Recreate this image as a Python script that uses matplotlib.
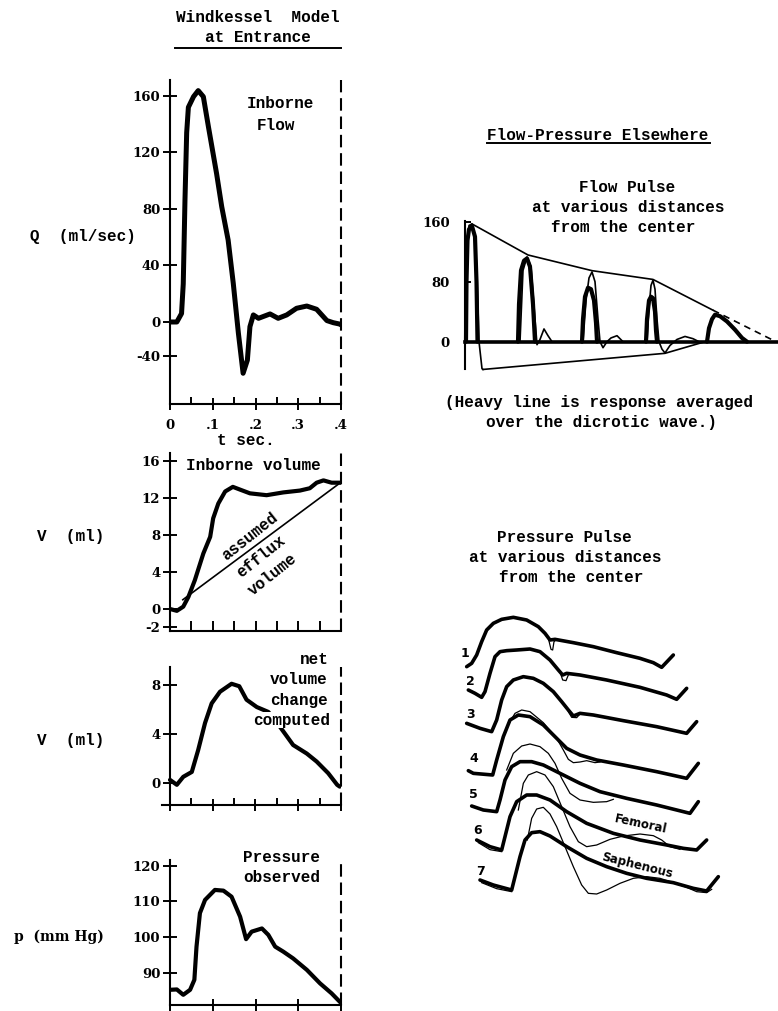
import matplotlib
matplotlib.use("Agg")
import matplotlib.pyplot as plt
from matplotlib.lines import Line2D

# ---------------- data ----------------
# Windkessel panel 1: inborne flow Q (ml/sec) vs t (sec)
T_FLOW = [0, 0.016, 0.027, 0.031, 0.035, 0.039, 0.043, 0.055, 0.066, 0.078, 0.09, 0.109,
          0.121, 0.136, 0.148, 0.16, 0.171, 0.181, 0.187, 0.195, 0.207, 0.234, 0.253, 0.273,
          0.296, 0.32, 0.343, 0.367, 0.382, 0.396, 0.4]
Q_FLOW = [0, 0, 6, 27, 86, 134, 152, 159.5, 163.8, 159.5, 138, 105, 81.6, 58, 27.4, -8,
          -36.3, -27, -3.3, 5, 2.6, 5.7, 2.6, 5, 9.7, 11.3, 9, 1, -0.5, -1.4, -2]
Q_TICKS = [160, 120, 80, 40, 0, -24]
Q_TICK_LABELS = ["160", "120", "80", "40", "0", "-40"]

# panel 2: inborne volume V (ml)
T_VOL = [0, 0.016, 0.031, 0.043, 0.058, 0.078, 0.094, 0.101, 0.113, 0.129, 0.147, 0.164,
         0.187, 0.226, 0.265, 0.304, 0.327, 0.343, 0.359, 0.378, 0.4]
V_VOL = [0, -0.2, 0.25, 1.3, 3.1, 6, 7.8, 9.8, 11.4, 12.7, 13.2, 12.9, 12.5, 12.3, 12.6,
         12.8, 13.05, 13.65, 13.9, 13.65, 13.65]
T_EFFLUX = [0.03, 0.4]
V_EFFLUX = [1.0, 13.7]
V_TICKS = [16, 12, 8, 4, 0, -2]

# panel 3: net volume change computed
T_NET = [0, 0.016, 0.031, 0.051, 0.066, 0.082, 0.0975, 0.117, 0.144, 0.162, 0.179, 0.203,
         0.23, 0.257, 0.288, 0.32, 0.343, 0.37, 0.391, 0.397]
V_NET = [0.25, -0.15, 0.5, 0.9, 2.7, 4.9, 6.5, 7.45, 8.1, 7.9, 6.8, 6.2, 5.8, 4.6, 3.1,
         2.4, 1.75, 0.8, -0.15, -0.3]
NET_TICKS = [8, 4, 0]

# panel 4: pressure observed p (mm Hg)
T_PRESS = [0, 0.016, 0.031, 0.047, 0.057, 0.062, 0.070, 0.082, 0.105, 0.125, 0.144, 0.164,
           0.178, 0.191, 0.215, 0.23, 0.246, 0.265, 0.288, 0.32, 0.351, 0.378, 0.4]
P_PRESS = [85.2, 85.3, 83.8, 85.2, 88, 97.3, 106.7, 110.4, 113.2, 113, 111.3, 105.7, 99.4,
           101.5, 102.4, 100.6, 97.3, 95.9, 94, 90.8, 87, 84.2, 81.5]
P_TICKS = [120, 110, 100, 90]

T_MAJOR = [0, 0.1, 0.2, 0.3, 0.4]
T_MINOR = [0.05, 0.15, 0.25, 0.35]
T_LABELS = ["0", ".1", ".2", ".3", ".4"]

# Flow pulse at various distances (schematic distance, flow ml/sec)
FP1_THICK_X = [1, 1.5, 2.5, 4, 7, 10, 11.5, 12.5]
FP1_THICK_Q = [0, 80, 135, 150, 154, 140, 80, 0]
FP1_THIN_X = [0, 2, 4, 7, 10, 12, 14, 17, 18]
FP1_THIN_Q = [0, 120, 155, 157, 140, 90, 0, -36, -37]
FP2_THICK_X = [53, 54, 56, 59, 62, 65, 68, 70]
FP2_THICK_Q = [0, 50, 95, 108, 111, 100, 50, 0]
FP2_THIN_X = [55, 58, 62, 66, 70, 72, 75, 79, 83, 87]
FP2_THIN_Q = [0, 95, 113, 100, 30, -4, 3, 17, 8, 0]
FP3_THICK_X = [117, 118, 120, 123, 126, 129, 131, 132]
FP3_THICK_Q = [0, 30, 60, 72, 70, 55, 25, 0]
FP3_THIN_X = [118, 121, 124, 127, 130, 133, 135, 138, 142, 146, 152, 158]
FP3_THIN_Q = [0, 55, 85, 93, 80, 30, 0, -8, 0, 5, 8, 0]
FP4_THICK_X = [181, 182, 184, 186, 188, 190, 191, 192]
FP4_THICK_Q = [0, 30, 55, 60, 58, 40, 15, 0]
FP4_THIN_X = [182, 184, 186, 188, 190, 192, 194, 197, 200, 205, 212, 220, 228, 234]
FP4_THIN_Q = [0, 45, 75, 82, 70, 30, 0, -10, -15, -5, 3, 7, 4, 0]
FP5_THICK_X = [242, 244, 247, 250, 255, 262, 270, 277, 282]
FP5_THICK_Q = [0, 18, 30, 36, 34, 27, 16, 5, 0]
ENV_UP_X = [7, 63, 127, 188, 248]
ENV_UP_Q = [157, 115.6, 94.7, 83, 42]
ENV_DASH_X = [248, 311]
ENV_DASH_Q = [42, 0]
ENV_LOW_X = [18, 200, 240]
ENV_LOW_Q = [-37, -15.5, 0]
BASE_X = [0, 313]
BASE_Q = [0, 0]
FP_TICKS = [160, 80, 0]

# Pressure pulse traces 1..7 (schematic trace coordinates, y downward)
PP1_X = [80, 95, 110, 125, 140, 160, 185, 220, 260, 295, 315, 330, 345, 400, 460, 530, 600, 640, 665, 700]
PP1_Y = [170, 160, 135, 95, 60, 40, 28, 22, 30, 50, 70, 90, 88, 98, 110, 128, 145, 158, 172, 135]
PP1_THIN_X = [325, 333, 338, 342, 350]
PP1_THIN_Y = [85, 118, 120, 95, 88]
PP2_X = [85, 105, 125, 135, 150, 165, 180, 200, 230, 270, 300, 330, 355, 368, 380, 420, 500, 600, 680, 710, 740]
PP2_Y = [240, 250, 262, 245, 190, 140, 125, 122, 120, 117, 125, 150, 180, 195, 190, 195, 210, 232, 255, 268, 235]
PP2_THIN_X = [360, 368, 378, 385]
PP2_THIN_Y = [185, 210, 212, 195]
PP3_X = [80, 120, 155, 170, 185, 200, 220, 250, 280, 310, 340, 365, 385, 400, 420, 460, 550, 650, 740, 770]
PP3_Y = [340, 355, 365, 330, 270, 230, 210, 200, 205, 220, 245, 275, 300, 318, 310, 315, 332, 350, 370, 335]
PP3_THIN_X = [385, 395, 410, 420]
PP3_THIN_Y = [305, 322, 323, 312]
PP4_X = [85, 100, 158, 170, 190, 210, 235, 270, 310, 350, 380, 420, 470, 550, 650, 740, 775]
PP4_Y = [482, 490, 495, 450, 380, 330, 315, 320, 345, 385, 415, 435, 450, 465, 485, 505, 460]
PP4_THIN_X = [210, 225, 245, 270, 310, 350, 370, 385, 400, 420, 440, 465, 480]
PP4_THIN_Y = [335, 310, 300, 305, 338, 385, 420, 448, 458, 456, 452, 458, 456]
PP5_X = [95, 130, 170, 180, 195, 215, 240, 275, 310, 360, 420, 480, 560, 650, 750, 775]
PP5_Y = [588, 600, 605, 570, 510, 470, 455, 455, 465, 490, 520, 545, 565, 585, 610, 575]
PP5_THIN_X = [200, 220, 245, 270, 300, 325, 345, 365, 390, 420, 460, 500, 520]
PP5_THIN_Y = [480, 430, 408, 402, 410, 430, 460, 505, 550, 570, 577, 575, 568]
PP6_X = [110, 150, 185, 195, 210, 230, 260, 290, 330, 380, 440, 520, 600, 680, 730, 770, 800]
PP6_Y = [690, 710, 720, 680, 620, 575, 555, 555, 570, 605, 640, 670, 690, 705, 715, 720, 690]
PP6_THIN_X = [235, 250, 265, 290, 315, 340, 365, 390, 415, 440, 470, 510, 550, 600, 640, 665, 690, 720]
PP6_THIN_Y = [600, 520, 495, 485, 495, 530, 590, 650, 695, 710, 705, 688, 678, 672, 677, 690, 710, 718]
PP6_FOOT_X = [115, 150, 185]
PP6_FOOT_Y = [698, 719, 725]
PP7_X = [120, 160, 215, 225, 240, 255, 275, 300, 330, 380, 440, 500, 560, 620, 700, 760, 800, 835]
PP7_Y = [810, 825, 840, 800, 740, 690, 668, 665, 678, 710, 745, 770, 790, 805, 818, 835, 843, 800]
PP7_THIN_X = [262, 275, 290, 310, 330, 350, 375, 400, 425, 445, 470, 500, 540, 580, 620, 660, 700, 740, 770, 800, 815]
PP7_THIN_Y = [690, 625, 597, 592, 612, 650, 710, 770, 825, 850, 852, 840, 820, 805, 800, 805, 818, 832, 845, 848, 838]
PP7_FOOT_X = [125, 170, 215]
PP7_FOOT_Y = [818, 836, 845]
PP_LABELS = ["1", "2", "3", "4", "5", "6", "7"]
PP_LABEL_X = [75, 90, 90, 100, 100, 112, 122]
PP_LABEL_Y = [130, 215, 315, 445, 555, 662, 785]

# ---------------- figure ----------------
W, H = 778, 1011
fig = plt.figure(figsize=(W / 100, H / 100), dpi=100)
fig.patch.set_facecolor("white")

MONO = ["Liberation Mono", "DejaVu Sans Mono"]
SERIF = ["DejaVu Serif"]
SANS = ["DejaVu Sans"]


def px_axes(x0, y0, x1, y1):
    return fig.add_axes([x0 / W, 1 - y1 / H, (x1 - x0) / W, (y1 - y0) / H])


def ftext(x, y, s, **kw):
    kw.setdefault("family", MONO)
    kw.setdefault("weight", "bold")
    kw.setdefault("size", 11.5)
    kw.setdefault("ha", "center")
    kw.setdefault("va", "center")
    return fig.text(x / W, 1 - y / H, s, **kw)


def underline(x0, x1, y, lw=1.4):
    fig.add_artist(Line2D([x0 / W, x1 / W], [1 - y / H, 1 - y / H], color="black",
                          lw=lw, transform=fig.transFigure))


THICK = dict(color="black", solid_capstyle="round", solid_joinstyle="round")


def style_left(ax, ylim, yticks, ylabels, xlo=0.0, xlabels=False, minor=True, xdir="inout"):
    ax.set_xlim(xlo, 0.4)
    ax.set_ylim(*ylim)
    ax.patch.set_visible(False)
    for s in ["top", "right"]:
        ax.spines[s].set_visible(False)
    for s in ["left", "bottom"]:
        ax.spines[s].set_linewidth(1.5)
    ax.spines["left"].set_position(("data", 0))
    ax.set_yticks(yticks)
    ax.set_yticklabels(ylabels, family=SERIF, weight="bold", size=9.5)
    ax.tick_params(axis="y", direction="inout", length=10, width=1.4, pad=2)
    ax.set_xticks(T_MAJOR)
    if xlabels:
        ax.set_xticklabels(T_LABELS, family=SERIF, weight="bold", size=9.5)
    else:
        ax.set_xticklabels([])
    ax.tick_params(axis="x", which="major", direction=xdir, length=9, width=1.4, pad=6)
    if minor:
        ax.set_xticks(T_MINOR, minor=True)
        ax.tick_params(axis="x", which="minor", direction="in", length=5, width=1.4)
    ax.axvline(0.4, color="black", lw=1.5, dashes=(6, 2.8), clip_on=False)


# Panel 1: inborne flow
ax1 = px_axes(170, 80, 341, 404)
style_left(ax1, (-58.05, 171.3), Q_TICKS, Q_TICK_LABELS, xlabels=True)
ax1.plot(T_FLOW, Q_FLOW, lw=3.6, **THICK)

# Panel 2: inborne volume
ax2 = px_axes(170, 453, 341, 631)
style_left(ax2, (-2.38, 16.86), V_TICKS, [str(v) for v in V_TICKS])
ax2.set_xticks(T_MINOR, minor=True)
ax2.tick_params(axis="x", which="minor", direction="in", length=7, width=1.4)
ax2.tick_params(axis="x", which="major", direction="in", length=7, width=1.4)
ax2.plot(T_VOL, V_VOL, lw=3.0, **THICK)
ax2.plot(T_EFFLUX, V_EFFLUX, lw=1.2, color="black")

# Panel 3: net volume change
ax3 = px_axes(162, 667, 341, 805)
style_left(ax3, (-1.80, 9.47), NET_TICKS, [str(v) for v in NET_TICKS], xlo=-0.0187)
ax3.plot(T_NET, V_NET, lw=3.0, **THICK)

# Panel 4: pressure observed
ax4 = px_axes(170, 860, 341, 1005)
style_left(ax4, (80.94, 121.59), P_TICKS, [str(v) for v in P_TICKS], minor=False)
ax4.plot(T_PRESS, P_PRESS, lw=3.0, **THICK)

# Left column texts
ftext(258, 18, "Windkessel  Model")
ftext(258, 38, "at Entrance")
underline(175, 341, 48)
ftext(247, 104, "Inborne", ha="left")
ftext(257, 125, "Flow", ha="left")
ftext(30, 237, "Q  (ml/sec)", ha="left")
ftext(246, 440, "t sec.")
ftext(253, 465, "Inborne volume")
ftext(250, 537, "assumed", rotation=38.5, rotation_mode="anchor")
ftext(261, 557, "efflux", rotation=38.5, rotation_mode="anchor")
ftext(273, 575, "volume", rotation=38.5, rotation_mode="anchor")
ftext(37, 536, "V  (ml)", ha="left")
ftext(37, 741, "V  (ml)", ha="left")
ftext(329, 659, "net", ha="right")
ftext(328, 679, "volume", ha="right")
ftext(328, 700, "change", ha="right")
ftext(330, 720, "computed", ha="right",
      bbox=dict(facecolor="white", edgecolor="none", pad=0.5))
ftext(282, 857, "Pressure")
ftext(282, 878, "observed")
ftext(14, 937, "p  (mm Hg)", ha="left", family=SERIF, size=10)

# ---------------- Flow pulse (right top) ----------------
axf = px_axes(465, 215, 778, 372)
axf.set_xlim(0, 313)
axf.set_ylim(-40.4, 168.9)
axf.patch.set_visible(False)
for s in ["top", "right", "bottom"]:
    axf.spines[s].set_visible(False)
axf.spines["left"].set_linewidth(1.5)
axf.spines["left"].set_bounds(-37, 161)
axf.set_xticks([])
axf.set_yticks(FP_TICKS)
axf.set_yticklabels([str(v) for v in FP_TICKS], family=SERIF, weight="bold", size=9.5)
axf.tick_params(axis="y", direction="in", length=4, width=1.4, pad=11)
axf.plot(BASE_X, BASE_Q, lw=2.6, color="black", clip_on=False)
for xs, qs in [(FP1_THICK_X, FP1_THICK_Q), (FP2_THICK_X, FP2_THICK_Q),
               (FP3_THICK_X, FP3_THICK_Q), (FP4_THICK_X, FP4_THICK_Q),
               (FP5_THICK_X, FP5_THICK_Q)]:
    axf.plot(xs, qs, lw=3.0, clip_on=False, **THICK)
for xs, qs in [(FP1_THIN_X, FP1_THIN_Q), (FP2_THIN_X, FP2_THIN_Q),
               (FP3_THIN_X, FP3_THIN_Q), (FP4_THIN_X, FP4_THIN_Q)]:
    axf.plot(xs, qs, lw=1.2, color="black", clip_on=False)
axf.plot(ENV_UP_X, ENV_UP_Q, lw=1.2, color="black", clip_on=False)
axf.plot(ENV_DASH_X, ENV_DASH_Q, lw=1.2, color="black", dashes=(4, 3), clip_on=False)
axf.plot(ENV_LOW_X, ENV_LOW_Q, lw=1.2, color="black", clip_on=False)

ftext(598, 135, "Flow-Pressure Elsewhere")
underline(487, 710, 143)
ftext(627, 187, "Flow Pulse")
ftext(628, 207, "at various distances")
ftext(623, 227, "from the center")
ftext(599, 402, "(Heavy line is response averaged")
ftext(602, 422, "over the dicrotic wave.)")

# ---------------- Pressure pulse (right bottom) ----------------
ftext(564, 537, "Pressure Pulse")
ftext(565, 558, "at various distances")
ftext(571, 578, "from the center")

axp = px_axes(440, 610, 740, 910)
axp.set_xlim(0, 900)
axp.set_ylim(900, 0)
axp.axis("off")
for xs, ys in [(PP1_X, PP1_Y), (PP2_X, PP2_Y), (PP3_X, PP3_Y), (PP4_X, PP4_Y),
               (PP5_X, PP5_Y), (PP6_X, PP6_Y), (PP7_X, PP7_Y)]:
    axp.plot(xs, ys, lw=2.6, clip_on=False, **THICK)
for xs, ys in [(PP1_THIN_X, PP1_THIN_Y), (PP2_THIN_X, PP2_THIN_Y), (PP3_THIN_X, PP3_THIN_Y),
               (PP4_THIN_X, PP4_THIN_Y), (PP5_THIN_X, PP5_THIN_Y), (PP6_THIN_X, PP6_THIN_Y),
               (PP6_FOOT_X, PP6_FOOT_Y), (PP7_THIN_X, PP7_THIN_Y), (PP7_FOOT_X, PP7_FOOT_Y)]:
    axp.plot(xs, ys, lw=0.9, color="black", clip_on=False, solid_joinstyle="round")
for lab, lx, ly in zip(PP_LABELS, PP_LABEL_X, PP_LABEL_Y):
    axp.text(lx, ly, lab, family=SANS, weight="bold", size=9, ha="center", va="center")
axp.text(603, 643, "Femoral", family=SANS, weight="bold", size=8.5, rotation=-12,
         ha="center", va="center", rotation_mode="anchor")
axp.text(590, 768, "Saphenous", family=SANS, weight="bold", size=8.5, rotation=-14,
         ha="center", va="center", rotation_mode="anchor")

fig.savefig("out.png", dpi=100, facecolor="white")
